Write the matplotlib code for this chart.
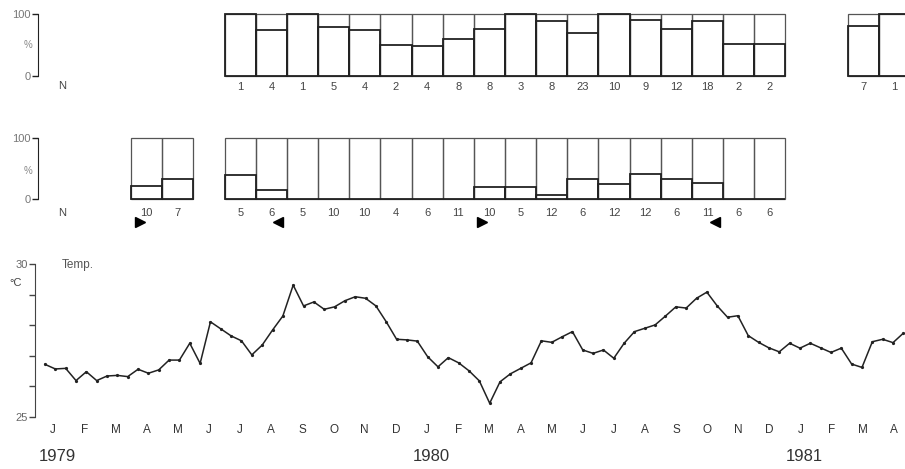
import matplotlib.pyplot as plt
import numpy as np

plt.rcParams['font.family'] = ['Liberation Sans', 'DejaVu Sans']

# ---- data ----
# month index: 0 = Jan 1979
month_labels = ['J', 'F', 'M', 'A', 'M', 'J', 'J', 'A', 'S', 'O', 'N', 'D',
                'J', 'F', 'M', 'A', 'M', 'J', 'J', 'A', 'S', 'O', 'N', 'D',
                'J', 'F', 'M', 'A']
year_labels = ['1979', '1980', '1981']
year_month = [0, 12, 24]

top_month = [6, 7, 8, 9, 10, 11, 12, 13, 14, 15, 16, 17, 18, 19, 20, 21, 22, 23, 26, 27]
top_pct = [100, 74, 100, 79, 74, 50, 49, 60, 75, 100, 89, 70, 100, 90, 75, 89, 52, 52, 80, 100]
top_n = [1, 4, 1, 5, 4, 2, 4, 8, 8, 3, 8, 23, 10, 9, 12, 18, 2, 2, 7, 1]

mid_month = [3, 4, 6, 7, 8, 9, 10, 11, 12, 13, 14, 15, 16, 17, 18, 19, 20, 21, 22, 23]
mid_pct = [21, 32, 40, 15, 0, 0, 0, 0, 0, 0, 19, 19, 7, 33, 24, 41, 33, 26, 0, 0]
mid_n = [10, 7, 5, 6, 5, 10, 10, 4, 6, 11, 10, 5, 12, 6, 12, 12, 6, 11, 6, 6]

arrow_month = [3.3, 7.7, 14.25, 21.75]
arrow_marker = ['>', '<', '>', '<']

temp = [26.72, 26.57, 26.59, 26.19, 26.48, 26.19, 26.34, 26.36, 26.32, 26.56,
        26.43, 26.54, 26.86, 26.86, 27.41, 26.75, 28.11, 27.88, 27.65, 27.49,
        27.03, 27.35, 27.84, 28.30, 29.31, 28.63, 28.76, 28.52, 28.60, 28.80,
        28.93, 28.88, 28.63, 28.11, 27.54, 27.52, 27.48, 26.97, 26.64, 26.94,
        26.77, 26.51, 26.18, 25.45, 26.15, 26.41, 26.59, 26.77, 27.49, 27.44,
        27.62, 27.79, 27.19, 27.08, 27.19, 26.92, 27.41, 27.79, 27.90, 28.01,
        28.30, 28.60, 28.56, 28.88, 29.08, 28.63, 28.26, 28.31, 27.66, 27.44,
        27.26, 27.13, 27.41, 27.25, 27.41, 27.26, 27.11, 27.25, 26.73, 26.62,
        27.46, 27.54, 27.43, 27.74]
# roughly three samples a month, first one in early January 1979
temp_t = 0.234 + np.arange(len(temp)) * 0.332

# ---- layout (pixels of the 905x469 original) ----
W, H = 905, 469
X0, DX = 37.7, 31.15          # x pixel of 1 Jan 1979, pixels per month
XLIM = (-X0 / DX, (W - X0) / DX)
INK = '#222222'

fig = plt.figure(figsize=(W / 100, H / 100), dpi=100)


def px_axes(top_px, bottom_px):
    return fig.add_axes([0, 1 - bottom_px / H, 1, (bottom_px - top_px) / H])


def bar_panel(ax, months, pct, n, spine_px, n_y):
    x = np.array(months) + 0.5
    ax.set_xlim(*XLIM)
    ax.set_ylim(0, 100)
    ax.patch.set_alpha(0)
    ax.bar(x, [100] * len(x), width=1, fill=False, edgecolor='#555555',
           linewidth=0.9, clip_on=False)
    ax.bar(x, pct, width=1, fill=False, edgecolor=INK, linewidth=1.3,
           clip_on=False)
    for m, k in zip(months, n):
        ax.text(m + 0.5, n_y, str(k), transform=ax.get_xaxis_transform(),
                ha='center', va='center', fontsize=8, color='#444444')
    for sp in ['top', 'right', 'bottom']:
        ax.spines[sp].set_visible(False)
    ax.spines['left'].set_position(('data', (spine_px - X0) / DX))
    ax.spines['left'].set_bounds(0, 100)
    ax.spines['left'].set_color(INK)
    ax.set_yticks([0, 100])
    ax.tick_params(axis='y', length=4, width=1, pad=1, labelsize=8,
                   labelcolor='#777777', color=INK)
    ax.set_xticks([])


ax_top = px_axes(14, 76)
bar_panel(ax_top, top_month, top_pct, top_n, 38, -0.18)
fig.text(28 / W, 1 - 45 / H, '%', fontsize=7, color='#888888', ha='center', va='center')
fig.text(62 / W, 1 - 86 / H, 'N', fontsize=8, color='#444444', ha='center', va='center')

ax_mid = px_axes(138, 199)
bar_panel(ax_mid, mid_month, mid_pct, mid_n, 38, -0.23)
fig.text(28 / W, 1 - 171 / H, '%', fontsize=7, color='#888888', ha='center', va='center')
fig.text(62 / W, 1 - 213 / H, 'N', fontsize=8, color='#444444', ha='center', va='center')
for m, mk in zip(arrow_month, arrow_marker):
    ax_mid.plot(m, -0.38, marker=mk, color='black', markersize=7,
                transform=ax_mid.get_xaxis_transform(), clip_on=False)

# ---- temperature panel ----
ax = px_axes(264, 417)
ax.set_xlim(*XLIM)
ax.set_ylim(25, 30)
ax.patch.set_alpha(0)
ax.plot(temp_t, temp, color=INK, linewidth=1.1, marker='o', markersize=1.3,
        clip_on=False)
for sp in ['top', 'right', 'bottom']:
    ax.spines[sp].set_visible(False)
ax.spines['left'].set_position(('data', (35 - X0) / DX))
ax.spines['left'].set_bounds(25, 30)
ax.spines['left'].set_color('#444444')
ax.set_yticks([25, 26, 27, 28, 29, 30])
ax.set_yticklabels(['25', '', '', '', '', '30'])
ax.tick_params(axis='y', length=4, width=1, pad=1, labelsize=8,
               labelcolor='#666666', color='#444444')
ax.set_xticks(np.arange(len(month_labels)) + 0.5)
ax.set_xticklabels(month_labels)
ax.tick_params(axis='x', length=0, pad=5, labelsize=8.5, labelcolor='#333333')
for m, lab in zip(year_month, year_labels):
    ax.text(m + 0.62, -0.26, lab, transform=ax.get_xaxis_transform(),
            ha='center', va='center', fontsize=12, color='#333333')
fig.text(62 / W, 1 - 265 / H, 'Temp.', fontsize=8.5, color='#555555', ha='left', va='center')
fig.text(9 / W, 1 - 283 / H, '°C', fontsize=8, color='#444444', ha='left', va='center')

fig.savefig('out.png', dpi=100)
